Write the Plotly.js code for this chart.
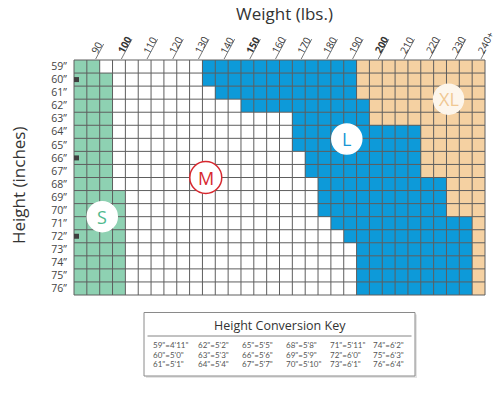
<!DOCTYPE html>
<html>
<head>
<meta charset="utf-8">
<script src="https://cdn.plot.ly/plotly-3.0.1.min.js"></script>
<style>html,body{margin:0;padding:0;background:#fff;overflow:hidden;}#chart{width:500px;height:396px;}</style>
</head>
<body>
<div id="chart"></div>
<script>
// ---- data ----
const heights = [59,60,61,62,63,64,65,66,67,68,69,70,71,72,73,74,75,76];
// weight (lbs) where each size band ends, per height row
const smallEnd  = [90,95,95,95,95,95,95,95,95,95,100,100,100,100,100,100,100,100];
const mediumEnd = [130,130,135,145,165,165,165,170,170,175,175,175,180,185,190,190,190,190];
const largeEnd  = [190,190,190,195,195,215,215,215,215,225,225,225,235,235,235,235,235,235];
const weightMin = 80, weightMax = 240;
const weightCols = [80,85,90,95,100,105,110,115,120,125,130,135,140,145,150,155,160,165,170,175,180,185,190,195,200,205,210,215,220,225,230,235];
const weightTicks = [90,100,110,120,130,140,150,160,170,180,190,200,210,220,230,240];
const weightTickText = ['90','100','110','120','130','140','150','160','170','180','190','200','210','220','230','240+'];
const boldTicks = [100,150,200];
const heightTickText = heights.map(h => h + '”');
const markerRows = [60,66,72];
const sizeLabels = ['S','M','L','XL'];
const sizeLabelX = [91,131.3,186.2,225.8];
const sizeLabelY = [70.5,67.5,64.55,61.5];
const keyTitle = 'Height Conversion Key';
const keyInches = [59,60,61,62,63,64,65,66,67,68,69,70,71,72,73,74,75,76];
const keyFeet = ["4'11\"","5'0\"","5'1\"","5'2\"","5'3\"","5'4\"","5'5\"","5'6\"","5'7\"","5'8\"","5'9\"","5'10\"","5'11\"","6'0\"","6'1\"","6'2\"","6'3\"","6'4\""];

// ---- styles ----
const GREEN='#8ed1b2', WHITE='#ffffff', BLUE='#0d9ad9', TAN='#f5d1a2';
const GRID='#5e5e5e';
const FONT='"Open Sans", sans-serif';
const L=74, R=485, T=60, B=295;
const px = X => (X-L)/(R-L);
const py = Y => (B-Y)/(B-T);

// stacked horizontal bands per row
const starts = [heights.map(()=>weightMin), smallEnd, mediumEnd, largeEnd];
const ends = [smallEnd, mediumEnd, largeEnd, heights.map(()=>weightMax)];
const bandColors = [GREEN, WHITE, BLUE, TAN];
const traces = sizeLabels.map((s,k) => ({
  type:'bar', orientation:'h', name:s, y:heights,
  base:starts[k], x:ends[k].map((e,i)=>e-starts[k][i]),
  width:1, marker:{color:bandColors[k], line:{width:0}}, hoverinfo:'skip'
}));

const shapes = [];
// grid lines
weightCols.slice(1).forEach(w => {
  shapes.push({type:'line',xref:'x',yref:'paper',x0:w,x1:w,y0:0,y1:1,line:{color:GRID,width:1}});
});
heights.slice(0,-1).forEach(h => {
  shapes.push({type:'line',xref:'paper',yref:'y',x0:0,x1:1,y0:h+0.5,y1:h+0.5,line:{color:GRID,width:1}});
});
shapes.push({type:'rect',xref:'paper',yref:'paper',x0:0,x1:1,y0:0,y1:1,line:{color:GRID,width:1}});
// slanted tick underlines
const ANG = 62*Math.PI/180;
const tickLen = t => 6 + 5.5*t.length;
weightTicks.forEach((tv,i) => {
  const len = tickLen(weightTickText[i]);
  shapes.push({type:'line',xref:'x',yref:'paper',xsizemode:'pixel',ysizemode:'pixel',xanchor:tv,yanchor:1,
    x0:-4,x1:-4+len*Math.cos(ANG),y0:1,y1:1+len*Math.sin(ANG),line:{color:'#555',width:0.8}});
});
// ruler markers
markerRows.forEach(r => {
  shapes.push({type:'rect',xref:'x',yref:'y',xsizemode:'pixel',ysizemode:'pixel',xanchor:weightMin,yanchor:r,
    x0:-4,x1:5,y0:-2.5,y1:2.5,fillcolor:'#3f3f3f',line:{width:0}});
});
// size circles
const circFill=['#ffffff','#ffffff','#ffffff','#fdf6ec'];
const circLine=['#ffffff','#d7282f','#ffffff','#fdf6ec'];
const circText=['#4fb98e','#d7282f','#1996d4','#f0c893'];
const circR=[15,16,15,15];
sizeLabels.forEach((s,i) => {
  shapes.push({type:'circle',xref:'x',yref:'y',xsizemode:'pixel',ysizemode:'pixel',xanchor:sizeLabelX[i],yanchor:sizeLabelY[i],
    x0:-circR[i],x1:circR[i],y0:-circR[i],y1:circR[i],fillcolor:circFill[i],line:{color:circLine[i],width:1.5}});
});
// key box
shapes.push({type:'rect',xref:'paper',yref:'paper',x0:px(146),x1:px(417),y0:py(314.5),y1:py(378),fillcolor:'#e4e4e4',line:{width:0},layer:'below'});
shapes.push({type:'rect',xref:'paper',yref:'paper',x0:px(144),x1:px(415),y0:py(312.5),y1:py(376),fillcolor:'#ffffff',line:{color:'#8a8a8a',width:1}});
shapes.push({type:'line',xref:'paper',yref:'paper',x0:px(147.5),x1:px(411.5),y0:py(336),y1:py(336),line:{color:'#666',width:0.8}});

const annotations = [];
annotations.push({text:'Weight (lbs.)',xref:'paper',yref:'paper',x:px(284),y:py(13),showarrow:false,font:{family:FONT,size:17,color:'#333'},xanchor:'center',yanchor:'middle'});
annotations.push({text:'Height (inches)',xref:'paper',yref:'paper',x:px(18),y:py(186),textangle:-90,showarrow:false,font:{family:FONT,size:17,color:'#333'},xanchor:'center',yanchor:'middle'});
// weight tick labels (rotated, along the underline)
weightTicks.forEach((tv,i) => {
  const t = weightTickText[i], len = tickLen(t);
  const bold = boldTicks.includes(tv);
  annotations.push({text: bold ? '<b>'+t+'</b>' : t, xref:'x', yref:'paper', x:tv, y:1, showarrow:false,
    textangle:-62, xanchor:'center', yanchor:'middle', borderpad:0,
    xshift:-4 + len/2*Math.cos(ANG) - 2.5, yshift:1 + len/2*Math.sin(ANG) + 4,
    font:{family:FONT,size:10,color:'#333'}});
});
sizeLabels.forEach((s,i) => {
  annotations.push({text:s,xref:'x',yref:'y',x:sizeLabelX[i],y:sizeLabelY[i],showarrow:false,font:{family:FONT,size:18,color:circText[i]},xanchor:'center',yanchor:'middle'});
});
annotations.push({text:keyTitle,xref:'paper',yref:'paper',x:px(280),y:py(325),showarrow:false,font:{family:FONT,size:12.5,color:'#333'},xanchor:'center',yanchor:'middle'});
const keyColX=[152,197,241,285,329,372];
const keyRowY=[345,354.7,364.3];
keyInches.forEach((h,k) => {
  const col=Math.floor(k/3), row=k%3;
  annotations.push({text:h+'"='+keyFeet[k],xref:'paper',yref:'paper',x:px(keyColX[col]),y:py(keyRowY[row]),showarrow:false,
    font:{family:'Lato, sans-serif',size:8,color:'#555'},xanchor:'left',yanchor:'middle',borderpad:0});
});

const layout = {
  width:500,height:396,
  margin:{l:L,r:500-R,t:T,b:396-B,pad:0,autoexpand:false},
  paper_bgcolor:'#ffffff', plot_bgcolor:'#ffffff',
  showlegend:false, barmode:'overlay', bargap:0,
  xaxis:{range:[weightMin,weightMax],showticklabels:false,ticks:'',automargin:false,showgrid:false,zeroline:false,showline:false,fixedrange:true},
  yaxis:{range:[76.5,58.5],tickmode:'array',tickvals:heights,ticktext:heightTickText,automargin:false,
    tickfont:{family:FONT,size:10.5,color:'#444'},ticks:'',ticklabelstandoff:6,showgrid:false,zeroline:false,showline:false,fixedrange:true},
  shapes:shapes, annotations:annotations
};

Plotly.newPlot('chart',traces,layout,{displayModeBar:false});
</script>
</body>
</html>
